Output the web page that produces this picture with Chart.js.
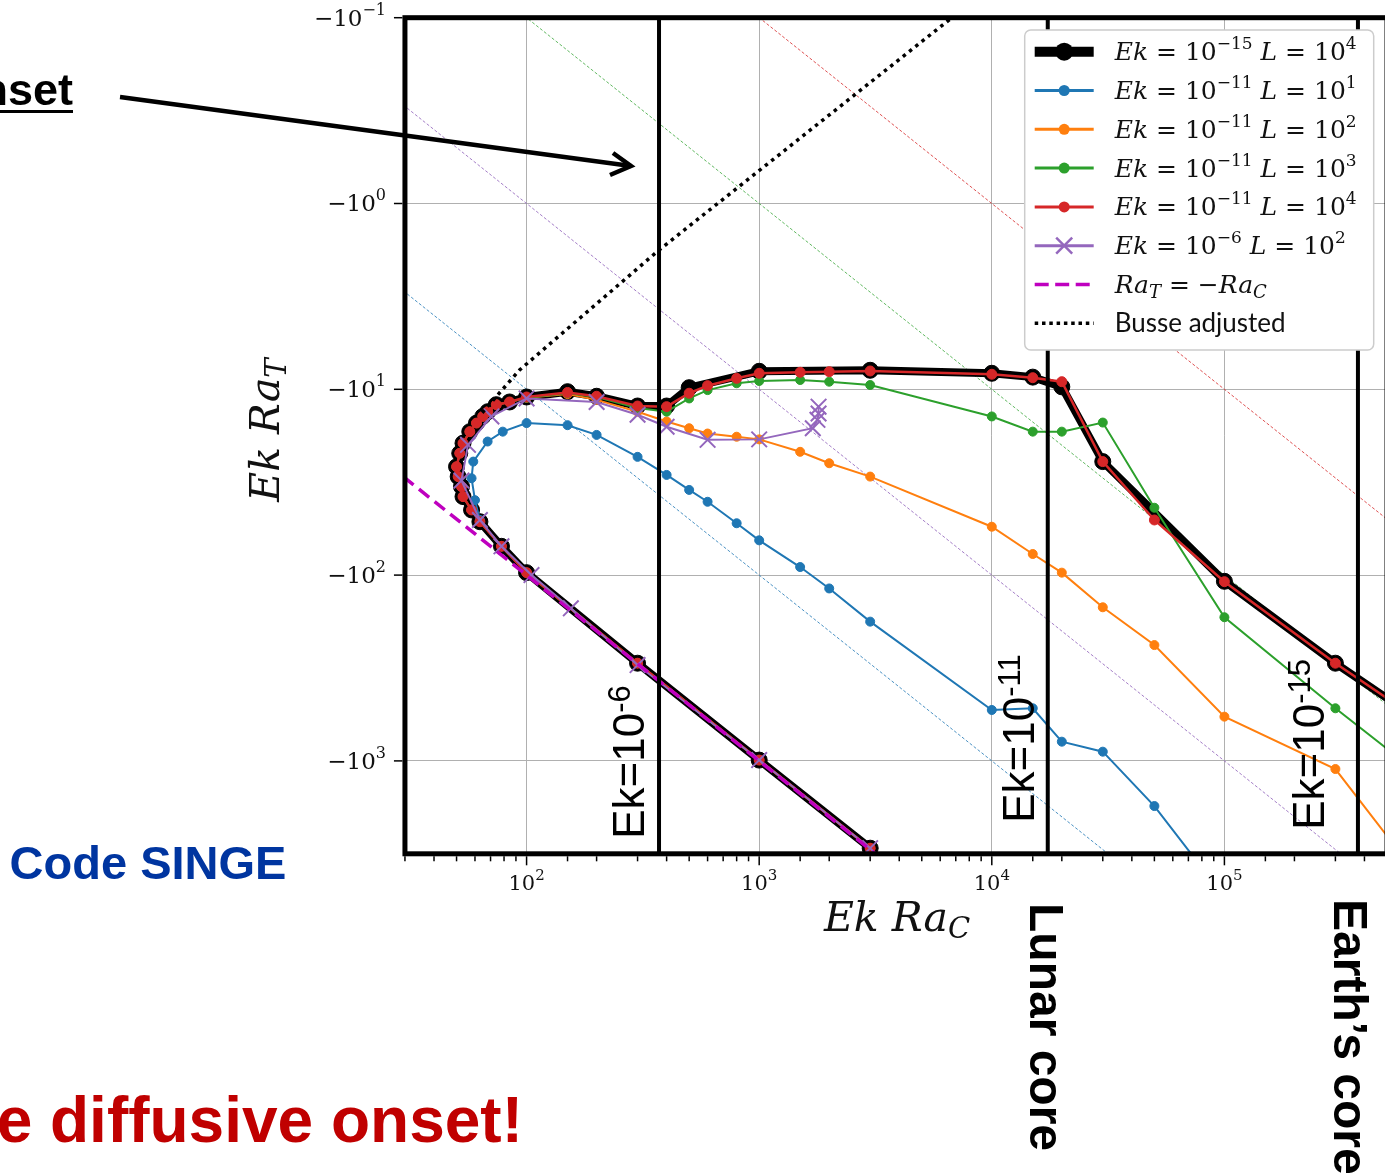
<!DOCTYPE html>
<html>
<head>
<meta charset="utf-8">
<script src="https://cdn.jsdelivr.net/npm/chart.js@4.4.1/dist/chart.umd.min.js"></script>
<style>
  html, body { margin: 0; padding: 0; background: #fff; overflow: hidden; }
  #wrap { position: relative; width: 1385px; height: 1175px; overflow: hidden; }
  #c { position: absolute; left: 0; top: 0; }
</style>
</head>
<body>
<div id="wrap"><canvas id="c" width="1400" height="1175"></canvas></div>
<script>
// ---- data: x = Ek Ra_C, y = |Ek Ra_T| (Ra_T is negative, axis labelled with the minus sign) ----

// shared diffusive branch and nose of the Ek = 1e-11 / 1e-15 curves
const diffusiveRaC = [3000, 1000, 300, 100, 78];
const diffusiveRaT = [2950, 990, 298, 97, 70];
const noseRaC = [63, 58, 53.3, 52.5, 50.8, 50, 51.6, 53.3, 57, 60.9, 64.8, 68.1, 74.1, 84.5];
const noseRaT = [51.6, 44.6, 37.8, 33.4, 29.5, 26.1, 22.1, 19.5, 16.9, 15.2, 14.0, 13.2, 12.1, 11.7];

// Ek = 1e-15, L = 1e4 (upper branch)
const ek15L4RaC = [100, 150, 200, 300, 400, 500, 1000, 3000, 1e4, 1.5e4, 2e4, 3e4, 1e5, 3e5, 1e6];
const ek15L4RaT = [11.0, 10.3, 10.9, 12.3, 12.3, 9.8, 8.0, 7.9, 8.2, 8.6, 9.7, 24.5, 108, 298, 830];

// Ek = 1e-11, L = 10
const ek11L1RaC = [63, 60, 58, 59, 68, 79, 100, 150, 200, 300, 400, 500, 600, 800, 1000, 1500, 2000, 3000, 1e4, 1.5e4, 2e4, 3e4, 5e4, 1e5];
const ek11L1RaT = [50.5, 39.5, 30.1, 24.5, 19.1, 16.9, 15.2, 15.6, 17.6, 23.1, 28.9, 34.8, 40.3, 52.6, 65, 90.5, 118, 178, 532, 521, 788, 892, 1750, 5400];

// Ek = 1e-11, L = 1e2 (upper branch)
const ek11L2RaC = [100, 150, 200, 300, 400, 500, 600, 800, 1000, 1500, 2000, 3000, 1e4, 1.5e4, 2e4, 3e4, 5e4, 1e5, 3e5, 1e6];
const ek11L2RaT = [11.1, 10.6, 11.4, 13.2, 14.9, 16.2, 17.3, 18.0, 18.6, 21.7, 25.0, 29.5, 54.9, 77, 97, 149, 238, 578, 1106, 7800];

// Ek = 1e-11, L = 1e3 (upper branch)
const ek11L3RaC = [100, 150, 200, 300, 400, 500, 600, 800, 1000, 1500, 2000, 3000, 1e4, 1.5e4, 2e4, 3e4, 5e4, 1e5, 3e5, 1e6];
const ek11L3RaT = [11.1, 10.5, 11.0, 12.6, 13.2, 11.2, 10.1, 9.28, 9.02, 8.91, 9.1, 9.48, 14.0, 16.9, 16.9, 15.1, 43.4, 168.6, 521, 1700];

// Ek = 1e-11, L = 1e4 (upper branch)
const ek11L4RaC = [100, 150, 200, 300, 400, 500, 600, 800, 1000, 1500, 2000, 3000, 1e4, 1.5e4, 2e4, 3e4, 5e4, 1e5, 3e5, 1e6];
const ek11L4RaT = [11.0, 10.4, 10.9, 12.3, 12.4, 10.5, 9.56, 8.73, 8.2, 8.1, 8.04, 7.97, 8.3, 8.66, 9.1, 24.5, 50.5, 108.5, 298, 830];

// Ek = 1e-6, L = 1e2
const ek6L2RaC = [3000, 1000, 300, 155, 105, 78, 63, 52.5, 56, 70.6, 100, 200, 300, 400, 600, 1000, 1700, 1780, 1800, 1800];
const ek6L2RaT = [2950, 990, 305, 151, 100, 70, 50.5, 31, 19.9, 14.0, 11.2, 11.7, 13.7, 15.9, 18.7, 18.6, 16.2, 14.6, 13.5, 12.4];

// Ra_T = -Ra_C
const diagRaC = [10, 1e5];
const diagRaT = [10, 1e5];

// Busse scaling, adjusted
const busseRaC = [8430, 371, 93.3, 64];
const busseRaT = [0.08, 1.78, 7.87, 13.5];

// Ra_T = -Ra_C / L guides for L = 10, 1e2, 1e3, 1e4
const guideRaC = [10, 1e6];
const guideL1RaT = [1, 1e5];
const guideL2RaT = [0.1, 1e4];
const guideL3RaT = [0.01, 1e3];
const guideL4RaT = [0.001, 100];

// Ek Ra_C of the three planetary cases
const caseRaC = [371, 17400, 375000];
const caseEkExp = ['-6', '-11', '-15'];

// tick exponents
const xTickExp = [2, 3, 4, 5];
const yTickExp = [-1, 0, 1, 2, 3];

// legend
const legendEkExp = ['\u221215', '\u221211', '\u221211', '\u221211', '\u221211', '\u22126'];
const legendLExp = ['4', '1', '2', '3', '4', '2'];

// ---- styling ----
const BLUE = '#1f77b4', ORANGE = '#ff7f0e', GREEN = '#2ca02c', RED = '#d62728', PURPLE = '#9467bd', MAGENTA = '#bf00bf';
const SERIF = '"DejaVu Serif", "Liberation Serif", serif';
const SANS = '"Liberation Sans", Arial, sans-serif';

function pts(xs, ys) { return xs.map((x, i) => ({ x: x, y: ys[i] })); }
function isDecade(v) { if (!v) return false; const l = Math.log10(v); return Math.abs(l - Math.round(l)) < 1e-9; }

function curve(xs, ys, color, lw, r, order, extra) {
  return Object.assign({
    data: pts(xs, ys), showLine: true, fill: false, borderColor: color, backgroundColor: color,
    borderWidth: lw, pointRadius: r, pointBackgroundColor: color, pointBorderColor: color,
    pointBorderWidth: 1, order: order, tension: 0
  }, extra || {});
}
function guide(ys, color, order) {
  return curve(guideRaC, ys, color, 1, 0, order, { borderDash: [3, 2] });
}

const datasets = [
  guide(guideL1RaT, 'rgba(31,119,180,0.8)', 100),
  guide(guideL2RaT, 'rgba(148,103,189,0.85)', 100),
  guide(guideL3RaT, 'rgba(44,160,44,0.75)', 100),
  guide(guideL4RaT, 'rgba(214,39,40,0.8)', 100),
  curve([...diffusiveRaC, ...noseRaC, ...ek15L4RaC], [...diffusiveRaT, ...noseRaT, ...ek15L4RaT], '#000', 8, 8, 90),
  curve(ek11L1RaC, ek11L1RaT, BLUE, 2, 4.5, 80),
  curve([...diffusiveRaC, ...noseRaC, ...ek11L2RaC], [...diffusiveRaT, ...noseRaT, ...ek11L2RaT], ORANGE, 2, 4.5, 70),
  curve([...diffusiveRaC, ...noseRaC, ...ek11L3RaC], [...diffusiveRaT, ...noseRaT, ...ek11L3RaT], GREEN, 2, 4.5, 60),
  curve([...diffusiveRaC, ...noseRaC, ...ek11L4RaC], [...diffusiveRaT, ...noseRaT, ...ek11L4RaT], RED, 2.5, 5, 50),
  curve(ek6L2RaC, ek6L2RaT, PURPLE, 2, 11, 40, { pointStyle: 'crossRot', pointBorderWidth: 2 }),
  curve(diagRaC, diagRaT, MAGENTA, 3.5, 0, 30, { borderDash: [13, 7] }),
  curve(busseRaC, busseRaT, '#000', 3.5, 0, 20, { borderDash: [3.5, 4.5] })
];

// ---- drawing helpers ----
function rich(ctx, x, y, parts, align) {
  let w = 0;
  parts.forEach(p => { ctx.font = p.f; w += ctx.measureText(p.t).width; });
  let cx = align === 'right' ? x - w : (align === 'center' ? x - w / 2 : x);
  ctx.textAlign = 'left';
  ctx.textBaseline = 'alphabetic';
  parts.forEach(p => { ctx.font = p.f; ctx.fillText(p.t, cx, y + (p.dy || 0)); cx += ctx.measureText(p.t).width; });
  return w;
}
function line(ctx, x1, y1, x2, y2, lw, color, dash) {
  ctx.save();
  ctx.beginPath(); ctx.moveTo(x1, y1); ctx.lineTo(x2, y2);
  ctx.lineWidth = lw; ctx.strokeStyle = color; ctx.setLineDash(dash || []);
  ctx.stroke(); ctx.restore();
}
function dot(ctx, x, y, r, color) {
  ctx.beginPath(); ctx.arc(x, y, r, 0, Math.PI * 2); ctx.fillStyle = color; ctx.fill();
}

const overlay = {
  id: 'overlay',
  afterDatasetsDraw(chart) {
    const ctx = chart.ctx, a = chart.chartArea;
    const xs = chart.scales.x, ys = chart.scales.y;
    ctx.save();

    // planetary-case verticals and their Ek labels
    const labelShift = [15, 14, 34];
    const labelLift = [15, 31, 24];
    caseRaC.forEach((v, i) => {
      const px = xs.getPixelForValue(v);
      line(ctx, px, a.top, px, a.bottom, 4, '#000');
      ctx.save();
      ctx.translate(px - labelShift[i], a.bottom - labelLift[i]);
      ctx.rotate(-Math.PI / 2);
      ctx.fillStyle = '#000';
      rich(ctx, 0, 0, [
        { t: 'Ek=10', f: '44px ' + SANS },
        { t: caseEkExp[i], f: '31px ' + SANS, dy: -14 }
      ], 'left');
      ctx.restore();
    });

    // axes frame
    ctx.lineWidth = 5; ctx.strokeStyle = '#000'; ctx.setLineDash([]);
    ctx.strokeRect(a.left, a.top, a.right - a.left, a.bottom - a.top);

    // x ticks (major + minor) and labels
    xs.ticks.forEach(t => {
      const v = t.value;
      if (v < xs.min || v > xs.max) return;
      const px = xs.getPixelForValue(v);
      const len = isDecade(v) ? 9 : 5;
      line(ctx, px, a.bottom + 2.5, px, a.bottom + 2.5 + len, 1.5, '#000');
    });
    ctx.fillStyle = '#111';
    xTickExp.forEach(e => {
      const px = xs.getPixelForValue(Math.pow(10, e));
      rich(ctx, px, 890, [
        { t: '10', f: '21px ' + SERIF },
        { t: String(e), f: '15px ' + SERIF, dy: -10 }
      ], 'center');
    });

    // y ticks and labels
    yTickExp.forEach(e => {
      const py = ys.getPixelForValue(Math.pow(10, e));
      line(ctx, a.left - 2.5, py, a.left - 11, py, 1.5, '#000');
      rich(ctx, 386, py + 8, [
        { t: '\u221210', f: '23px ' + SERIF },
        { t: e < 0 ? '\u2212' + (-e) : String(e), f: '16px ' + SERIF, dy: -11 }
      ], 'right');
    });

    // axis titles
    ctx.fillStyle = '#111';
    rich(ctx, 897, 931, [
      { t: 'Ek Ra', f: 'italic 41px ' + SERIF },
      { t: 'C', f: 'italic 29px ' + SERIF, dy: 7 }
    ], 'center');
    ctx.save();
    ctx.translate(279, 430);
    ctx.rotate(-Math.PI / 2);
    rich(ctx, 0, 0, [
      { t: 'Ek Ra', f: 'italic 41px ' + SERIF },
      { t: 'T', f: 'italic 29px ' + SERIF, dy: 7 }
    ], 'center');
    ctx.restore();

    // legend
    const bx = a.right - 13.3, by = a.top + 12.3, bw = 349, bh = 320;
    ctx.save();
    ctx.beginPath();
    ctx.roundRect(bx - bw, by, bw, bh, 6);
    ctx.fillStyle = '#fff'; ctx.fill();
    ctx.lineWidth = 1.5; ctx.strokeStyle = '#cccccc'; ctx.stroke();
    ctx.restore();
    const l0 = bx - bw + 10, l1 = l0 + 59, lm = (l0 + l1) / 2, tx = bx - bw + 90;
    const rowColors = ['#000', BLUE, ORANGE, GREEN, RED, PURPLE];
    const itf = 'italic 25px ' + SERIF, rmf = '25px ' + SERIF, supf = '17px ' + SERIF;
    for (let i = 0; i < 8; i++) {
      const cy = by + 21.7 + 38.8 * i;
      if (i === 0) {
        line(ctx, l0, cy, l1, cy, 10, '#000'); dot(ctx, lm, cy, 9, '#000');
      } else if (i < 5) {
        line(ctx, l0, cy, l1, cy, 3, rowColors[i]); dot(ctx, lm, cy, 5.5, rowColors[i]);
      } else if (i === 5) {
        line(ctx, l0, cy, l1, cy, 3, PURPLE);
        line(ctx, lm - 8, cy - 8, lm + 8, cy + 8, 2.5, PURPLE);
        line(ctx, lm - 8, cy + 8, lm + 8, cy - 8, 2.5, PURPLE);
      } else if (i === 6) {
        line(ctx, l0, cy, l1, cy, 3.5, MAGENTA, [14, 6.5]);
      } else {
        line(ctx, l0, cy, l1, cy, 3.5, '#000', [3.5, 3.8]);
      }
      ctx.fillStyle = '#111';
      const base = cy + 8.5;
      if (i < 6) {
        rich(ctx, tx, base, [
          { t: 'Ek', f: itf }, { t: ' = 10', f: rmf }, { t: legendEkExp[i], f: supf, dy: -11 },
          { t: ' ', f: rmf }, { t: 'L', f: itf }, { t: ' = 10', f: rmf }, { t: legendLExp[i], f: supf, dy: -11 }
        ], 'left');
      } else if (i === 6) {
        rich(ctx, tx, base, [
          { t: 'Ra', f: itf }, { t: 'T', f: 'italic 18px ' + SERIF, dy: 5 },
          { t: ' = \u2212', f: rmf }, { t: 'Ra', f: itf }, { t: 'C', f: 'italic 18px ' + SERIF, dy: 5 }
        ], 'left');
      } else {
        rich(ctx, tx, base, [{ t: 'Busse adjusted', f: '26px Lato, "Noto Sans", sans-serif' }], 'left');
      }
    }
    ctx.restore();
  },
  afterDraw(chart) {
    const ctx = chart.ctx;
    ctx.save();
    // slide annotations
    ctx.fillStyle = '#000';
    const onsetW = rich(ctx, 73, 105, [{ t: 'Onset', f: 'bold 45px ' + SANS }], 'right');
    ctx.fillRect(73 - onsetW, 110, onsetW, 3);

    ctx.fillStyle = '#0035a0';
    rich(ctx, 9.6, 879, [{ t: 'Code SINGE', f: 'bold 47px ' + SANS }], 'left');

    ctx.fillStyle = '#c00000';
    ctx.font = 'bold 64px ' + SANS;
    const eW = ctx.measureText('e ').width;
    rich(ctx, 50 - eW, 1142, [{ t: 'e diffusive onset!', f: 'bold 64px ' + SANS }], 'left');

    ctx.fillStyle = '#000';
    [['Lunar core', 1030, 903], ['Earth\u2019s core', 1334, 899]].forEach(([s, x, y]) => {
      ctx.save();
      ctx.translate(x, y);
      ctx.rotate(Math.PI / 2);
      ctx.textBaseline = 'alphabetic';
      ctx.font = 'bold 48px ' + SANS;
      ctx.fillText(s, 0, 0);
      ctx.restore();
    });

    // arrow
    ctx.lineWidth = 4.5; ctx.strokeStyle = '#000'; ctx.lineCap = 'butt'; ctx.setLineDash([]);
    ctx.beginPath(); ctx.moveTo(120, 97); ctx.lineTo(631, 166); ctx.stroke();
    ctx.beginPath(); ctx.moveTo(613, 153); ctx.lineTo(631, 166); ctx.lineTo(610, 175); ctx.stroke();
    ctx.restore();
  }
};

new Chart(document.getElementById('c'), {
  type: 'scatter',
  data: { datasets: datasets },
  options: {
    responsive: false,
    animation: false,
    devicePixelRatio: 1,
    events: [],
    layout: { padding: { left: 0, top: 17.7, right: 9.7, bottom: 221.2 } },
    plugins: { legend: { display: false }, tooltip: { enabled: false } },
    scales: {
      x: {
        type: 'logarithmic', min: 30, max: 5e5, position: 'bottom',
        afterFit: s => { s.height = 100; },
        ticks: { display: false },
        border: { display: false },
        grid: { drawTicks: false, lineWidth: 1, color: c => (c.tick && isDecade(c.tick.value)) ? '#b0b0b0' : 'rgba(0,0,0,0)' }
      },
      y: {
        type: 'logarithmic', min: 0.1, max: 3162.28, reverse: true, position: 'left',
        afterFit: s => { s.width = 404.95; },
        ticks: { display: false },
        border: { display: false },
        grid: { drawTicks: false, lineWidth: 1, color: c => (c.tick && isDecade(c.tick.value)) ? '#b0b0b0' : 'rgba(0,0,0,0)' }
      }
    }
  },
  plugins: [overlay]
});
</script>
</body>
</html>
